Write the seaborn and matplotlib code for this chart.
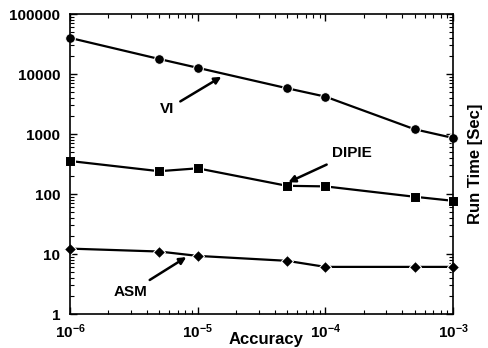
import matplotlib
matplotlib.use("Agg")
import matplotlib.pyplot as plt
import seaborn as sns
import pandas as pd
from matplotlib.ticker import LogLocator, NullFormatter

sns.set_theme(style="ticks")
plt.rcParams['font.family'] = ['Liberation Sans', 'DejaVu Sans']
plt.rcParams['mathtext.fontset'] = 'custom'
plt.rcParams['mathtext.rm'] = 'Liberation Sans:bold'
plt.rcParams['mathtext.it'] = 'Liberation Sans:bold'
plt.rcParams['mathtext.bf'] = 'Liberation Sans:bold'
plt.rcParams['text.color'] = 'black'
plt.rcParams['axes.labelcolor'] = 'black'
plt.rcParams['xtick.color'] = 'black'
plt.rcParams['ytick.color'] = 'black'

accuracy = [1e-6, 5e-6, 1e-5, 5e-5, 1e-4, 5e-4, 1e-3]
vi = [40000, 17800, 12700, 5800, 4200, 1200, 860]
dipie = [355, 240, 268, 137, 134, 90, 77]
asm = [12.3, 11, 9.3, 7.7, 6.1, 6.1, 6.1]

df = pd.DataFrame({
    "Accuracy": accuracy * 3,
    "Run Time": vi + dipie + asm,
    "Method": ["VI"] * 7 + ["DIPIE"] * 7 + ["ASM"] * 7,
})

fig = plt.figure(figsize=(4.88, 3.48), dpi=100)
ax = fig.add_axes([0.1434, 0.0977, 0.785, 0.862])

sns.lineplot(data=df, x="Accuracy", y="Run Time", hue="Method", style="Method",
             markers={"VI": "o", "DIPIE": "s", "ASM": "D"}, dashes=False,
             palette={"VI": "black", "DIPIE": "black", "ASM": "black"},
             markersize=7, linewidth=1.6, legend=False, ax=ax)
for line in ax.lines:
    line.set_clip_on(False)
    if line.get_marker() == "D":
        line.set_markersize(6)

ax.set_xscale("log")
ax.set_yscale("log")
ax.set_xlim(1e-6, 1e-3)
ax.set_ylim(1, 100000)

ax.set_xticks([1e-6, 1e-5, 1e-4, 1e-3])
ax.set_xticklabels([r"$10^{-6}$", r"$10^{-5}$", r"$10^{-4}$", r"$10^{-3}$"])
ax.set_yticks([1, 10, 100, 1000, 10000, 100000])
ax.set_yticklabels(["1", "10", "100", "1000", "10000", "100000"])
ax.xaxis.set_minor_locator(LogLocator(base=10, subs=range(2, 10), numticks=20))
ax.yaxis.set_minor_locator(LogLocator(base=10, subs=range(2, 10), numticks=20))
ax.xaxis.set_minor_formatter(NullFormatter())
ax.yaxis.set_minor_formatter(NullFormatter())

ax.tick_params(which="both", direction="in", top=True, right=True, colors="black",
               labelsize=11)
ax.tick_params(which="major", length=5, width=1)
ax.tick_params(which="minor", length=3, width=0.8)
ax.tick_params(axis="x", which="major", pad=6)
ax.tick_params(axis="y", which="major", pad=7)
for lab in ax.get_xticklabels() + ax.get_yticklabels():
    lab.set_fontweight("bold")

for s in ax.spines.values():
    s.set_color("black")
    s.set_linewidth(1.2)

ax.set_xlabel("")
ax.set_ylabel("")
fig.text(0.545, 0.003, "Accuracy", ha="center", va="bottom",
         fontsize=12, fontweight="bold")
fig.text(0.975, 0.53, "Run Time [Sec]", rotation=90, ha="center", va="center",
         fontsize=12, fontweight="bold")

arrow = dict(arrowstyle="-|>", color="black", lw=1.8, mutation_scale=10)
ax.annotate("VI", xy=(1.6e-5, 9500), xytext=(5.8e-6, 2600),
            fontsize=11, fontweight="bold", ha="center", va="center",
            arrowprops=arrow)
ax.annotate("DIPIE", xy=(4.9e-5, 150), xytext=(1.6e-4, 480),
            fontsize=11, fontweight="bold", ha="center", va="center",
            arrowprops=arrow)
ax.annotate("ASM", xy=(8.5e-6, 9.4), xytext=(3.0e-6, 2.35),
            fontsize=11, fontweight="bold", ha="center", va="center",
            arrowprops=arrow)

fig.savefig("out.png", dpi=100)
